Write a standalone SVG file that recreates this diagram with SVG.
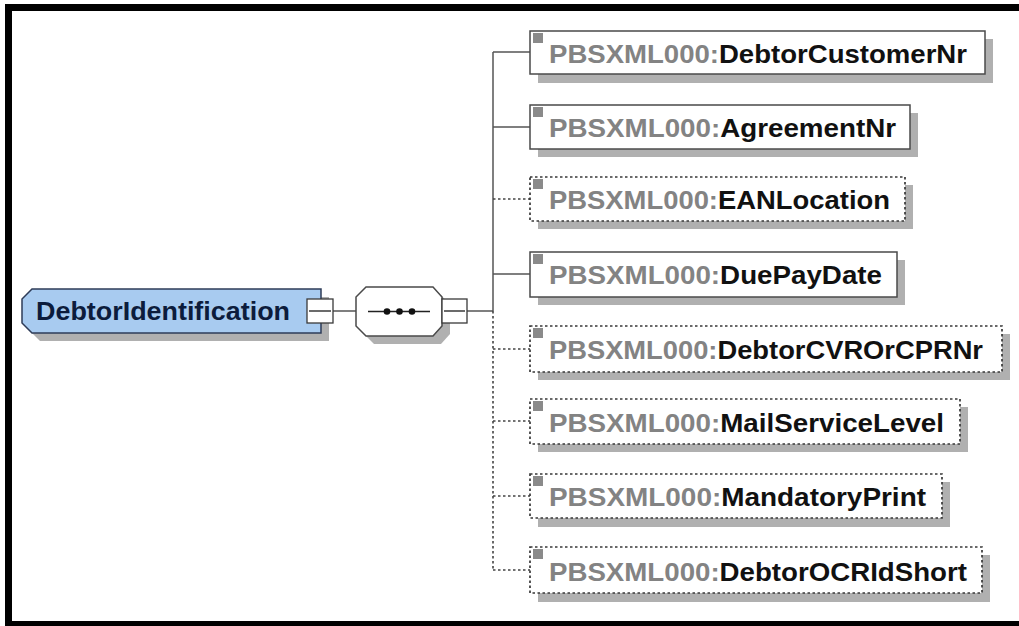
<svg xmlns="http://www.w3.org/2000/svg" width="1019" height="626" viewBox="0 0 1019 626">
  <style>
    .shadow { fill: #b0b0b0; }
    .box { fill: #ffffff; stroke: #4a4a4a; stroke-width: 1.5; }
    .opt { fill: #ffffff; stroke: #383838; stroke-width: 1.7; stroke-dasharray: 2.5 2.5; }
    .icon { fill: #8a8a8a; }
    .lbl { font-family: "Liberation Sans", Arial, sans-serif; font-weight: bold; font-size: 25px; }
    .ns { fill: #838383; }
    .nm { fill: #111111; }
    .wire { stroke: #555555; stroke-width: 1.5; fill: none; }
    .wire-opt { stroke: #444444; stroke-width: 1.6; fill: none; stroke-dasharray: 2.5 2.5; }
    .toggle { fill: #ffffff; stroke: #3a3a3a; stroke-width: 1.3; }
  </style>

  <rect width="1019" height="626" fill="#ffffff"/>
  <!-- outer frame (right side runs off the canvas) -->
  <rect x="8.5" y="7.5" width="1030" height="617" fill="none" stroke="#000000" stroke-width="7"/>

  <!-- connectors -->
  <g id="connectors">
    <line class="wire" x1="333" y1="311" x2="356" y2="311"/>
    <line class="wire" x1="467" y1="311" x2="493" y2="311"/>
    <line class="wire" x1="493" y1="52" x2="493" y2="311"/>
    <line class="wire-opt" x1="493" y1="311" x2="493" y2="570"/>
    <line class="wire" x1="493" y1="52" x2="530" y2="52"/>
    <line class="wire" x1="493" y1="127" x2="530" y2="127"/>
    <line class="wire-opt" x1="493" y1="199" x2="530" y2="199"/>
    <line class="wire" x1="493" y1="274" x2="530" y2="274"/>
    <line class="wire-opt" x1="493" y1="349" x2="530" y2="349"/>
    <line class="wire-opt" x1="493" y1="421" x2="530" y2="421"/>
    <line class="wire-opt" x1="493" y1="496" x2="530" y2="496"/>
    <line class="wire-opt" x1="493" y1="570" x2="530" y2="570"/>
  </g>

  <!-- root element -->
  <g id="DebtorIdentification">
    <path class="shadow" d="M40,297 L329,297 L329,341 L40,341 L30,331 L30,307 Z"/>
    <path d="M32,289 L321,289 L321,333 L32,333 L22,323 L22,299 Z" fill="#a8cbf0" stroke="#2e3c58" stroke-width="1.5"/>
    <text class="lbl" x="36" y="320" fill="#0c1c3c" textLength="254" lengthAdjust="spacingAndGlyphs">DebtorIdentification</text>
    <rect class="toggle" x="307" y="299" width="26" height="24"/>
    <line x1="309" y1="311" x2="331" y2="311" stroke="#3a3a3a" stroke-width="1.5"/>
  </g>

  <!-- sequence compositor -->
  <g id="sequence">
    <polygon class="shadow" points="374,295 441,295 450,305 450,334 441,344 374,344 364,334 364,305"/>
    <polygon points="366,287 433,287 442,297 442,326 433,336 366,336 356,326 356,297" fill="#ffffff" stroke="#4a4a4a" stroke-width="1.5"/>
    <line x1="368" y1="311.5" x2="430" y2="311.5" stroke="#222222" stroke-width="1.5"/>
    <circle cx="387" cy="311.5" r="3.3" fill="#111111"/>
    <circle cx="399.5" cy="311.5" r="3.3" fill="#111111"/>
    <circle cx="412" cy="311.5" r="3.3" fill="#111111"/>
    <rect class="toggle" x="442" y="299" width="25" height="24"/>
    <line x1="444" y1="311" x2="465" y2="311" stroke="#3a3a3a" stroke-width="1.5"/>
  </g>

  <!-- child elements -->
  <g id="DebtorCustomerNr">
    <rect class="shadow" x="538" y="39" width="455" height="44"/>
    <rect class="box" x="530" y="31" width="455" height="43"/>
    <rect class="icon" x="533" y="33" width="10" height="10"/>
    <text class="lbl" x="549" y="63" textLength="418" lengthAdjust="spacingAndGlyphs"><tspan class="ns">PBSXML000:</tspan><tspan class="nm">DebtorCustomerNr</tspan></text>
  </g>

  <g id="AgreementNr">
    <rect class="shadow" x="538" y="113" width="380" height="44"/>
    <rect class="box" x="530" y="105" width="380" height="44"/>
    <rect class="icon" x="533" y="107" width="10" height="10"/>
    <text class="lbl" x="549" y="137" textLength="347" lengthAdjust="spacingAndGlyphs"><tspan class="ns">PBSXML000:</tspan><tspan class="nm">AgreementNr</tspan></text>
  </g>

  <g id="EANLocation">
    <rect class="shadow" x="538" y="185" width="375" height="44"/>
    <rect class="opt" x="530" y="177" width="375" height="44"/>
    <rect class="icon" x="533" y="179" width="10" height="10"/>
    <text class="lbl" x="549" y="209" textLength="341" lengthAdjust="spacingAndGlyphs"><tspan class="ns">PBSXML000:</tspan><tspan class="nm">EANLocation</tspan></text>
  </g>

  <g id="DuePayDate">
    <rect class="shadow" x="538" y="260" width="367" height="45"/>
    <rect class="box" x="530" y="252" width="367" height="45"/>
    <rect class="icon" x="533" y="254" width="10" height="10"/>
    <text class="lbl" x="549" y="284" textLength="333" lengthAdjust="spacingAndGlyphs"><tspan class="ns">PBSXML000:</tspan><tspan class="nm">DuePayDate</tspan></text>
  </g>

  <g id="DebtorCVROrCPRNr">
    <rect class="shadow" x="538" y="334" width="472" height="46"/>
    <rect class="opt" x="530" y="326" width="472" height="46"/>
    <rect class="icon" x="533" y="328" width="10" height="10"/>
    <text class="lbl" x="549" y="359" textLength="434" lengthAdjust="spacingAndGlyphs"><tspan class="ns">PBSXML000:</tspan><tspan class="nm">DebtorCVROrCPRNr</tspan></text>
  </g>

  <g id="MailServiceLevel">
    <rect class="shadow" x="538" y="407" width="430" height="45"/>
    <rect class="opt" x="530" y="399" width="430" height="45"/>
    <rect class="icon" x="533" y="401" width="10" height="10"/>
    <text class="lbl" x="549" y="432" textLength="395" lengthAdjust="spacingAndGlyphs"><tspan class="ns">PBSXML000:</tspan><tspan class="nm">MailServiceLevel</tspan></text>
  </g>

  <g id="MandatoryPrint">
    <rect class="shadow" x="538" y="482" width="412" height="45"/>
    <rect class="opt" x="530" y="474" width="412" height="44"/>
    <rect class="icon" x="533" y="476" width="10" height="10"/>
    <text class="lbl" x="549" y="506" textLength="377" lengthAdjust="spacingAndGlyphs"><tspan class="ns">PBSXML000:</tspan><tspan class="nm">MandatoryPrint</tspan></text>
  </g>

  <g id="DebtorOCRIdShort">
    <rect class="shadow" x="538" y="555" width="452" height="47"/>
    <rect class="opt" x="530" y="547" width="452" height="46"/>
    <rect class="icon" x="533" y="549" width="10" height="10"/>
    <text class="lbl" x="549" y="581" textLength="418" lengthAdjust="spacingAndGlyphs"><tspan class="ns">PBSXML000:</tspan><tspan class="nm">DebtorOCRIdShort</tspan></text>
  </g>
</svg>
